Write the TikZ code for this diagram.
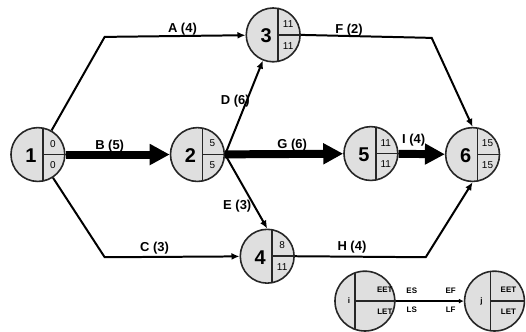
\documentclass[tikz,border=0pt]{standalone}
\usepackage{fontspec}
\setmainfont{Liberation Sans}
\usetikzlibrary{calc,arrows.meta}

\newcommand{\evnode}[6]{%
\node[evt] (#1) at (#2,#3) {};
\draw[div] ($(#1)+(5,-26.5)$) -- ($(#1)+(5,26.5)$);
\draw[div] ($(#1)+(5,0)$) -- (#1.east);
\node[num] (#1n) at ($(#1)+(-7,1)$) {#4};
\node[sml] (#1t) at ($(#1)+(15,-11)$) {#5};
\node[sml] (#1b) at ($(#1)+(15,11)$) {#6};
}

\begin{document}
\begin{tikzpicture}[x=0.5pt,y=-0.5pt,
  evt/.style={circle,draw=black!85,fill=gray!25,line width=0.8pt,minimum size=27pt,inner sep=0pt},
  legevt/.style={circle,draw=black!85,fill=gray!25,line width=0.8pt,minimum size=30pt,inner sep=0pt},
  div/.style={line width=0.8pt,black!85},
  num/.style={font=\bfseries\fontsize{10}{12}\selectfont,inner sep=0pt},
  sml/.style={font=\fontsize{5}{6}\selectfont,inner sep=0pt},
  tiny/.style={font=\bfseries\fontsize{4}{5}\selectfont,inner sep=0pt},
  lbl/.style={font=\bfseries\fontsize{6.5}{8}\selectfont,inner sep=0pt},
  act/.style={line width=1pt,-{Latex[length=4pt,width=3.5pt]}},
  crit/.style={line width=4pt,-{Triangle[length=10pt,width=10pt]}},
  legact/.style={line width=0.7pt,-{Latex[length=2.5pt,width=2.5pt]}}]
\path (0,0) rectangle (526,332);

\evnode{n1}{38}{155}{1}{0}{0}
\evnode{n2}{198}{155}{2}{5}{5}
\evnode{n3}{274}{35}{3}{11}{11}
\evnode{n4}{268}{257}{4}{8}{11}
\evnode{n5}{372}{154}{5}{11}{11}
\evnode{n6}{474}{155}{6}{15}{15}

\coordinate (ca) at (105,37);
\coordinate (cc) at (105,258);
\coordinate (cf) at (433,38);
\coordinate (ch) at (427,258);

\draw[act] (n1) -- (ca) -- (n3);
\draw[crit] (n1) -- (n2);
\draw[act] (n1) -- (cc) -- (n4);
\draw[act] (n2.east) -- (n3);
\draw[act] (n2.east) -- (n4.north);
\draw[crit] (n2) -- (n5);
\draw[act] (n3.east) -- (cf) -- (n6.north);
\draw[crit] (n5) -- (n6);
\draw[act] (n4.east) -- (ch) -- (n6.south);

\node[lbl] (la) at (183,29) {A (4)};
\node[lbl] (lb) at (110,147) {B (5)};
\node[lbl] (lc) at (155,249) {C (3)};
\node[lbl] (ld) at (236,101) {D (6)};
\node[lbl] (le) at (238,207) {E (3)};
\node[lbl] (lf) at (350,30) {F (2)};
\node[lbl] (lg) at (293,146) {G (6)};
\node[lbl] (lh) at (353,248) {H (4)};
\node[lbl] (lI) at (415,141) {I (4)};

\node[legevt] (li) at (366,302) {};
\draw[div] ($(li)+(-10,-28.3)$) -- ($(li)+(-10,28.3)$);
\draw[div] ($(li)+(-10,0)$) -- (li.east);
\node[tiny] (lin) at (350,302) {i};
\node[tiny] (lit) at (386,291) {EET};
\node[tiny] (lib) at (386,313) {LET};

\node[legevt] (lj) at (496,302) {};
\draw[div] ($(lj)+(-4,-29.7)$) -- ($(lj)+(-4,29.7)$);
\draw[div] ($(lj)+(-4,0)$) -- (lj.east);
\node[tiny] (ljn) at (483,302) {j};
\node[tiny] (ljt) at (510,291) {EET};
\node[tiny] (ljb) at (510,313) {LET};

\draw[legact] (li) -- (lj);
\node[tiny] (les) at (413,292) {ES};
\node[tiny] (lls) at (413,311) {LS};
\node[tiny] (lef) at (452,292) {EF};
\node[tiny] (llf) at (452,311) {LF};
\end{tikzpicture}
\end{document}
